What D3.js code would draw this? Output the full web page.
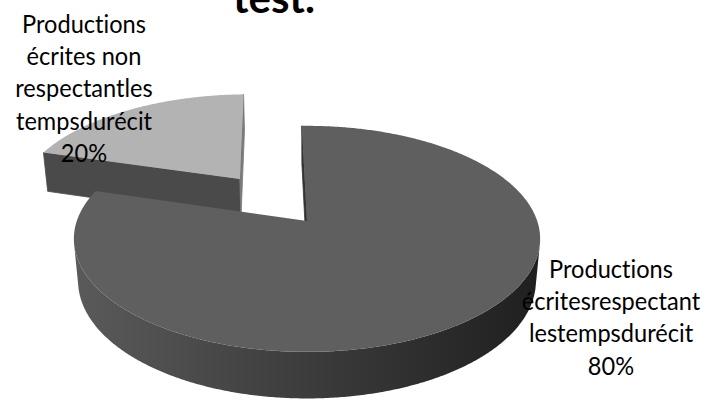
<!DOCTYPE html>
<html>
<head>
<meta charset="utf-8">
<script src="https://cdn.jsdelivr.net/npm/d3@7"></script>
<style>
  html, body { margin: 0; padding: 0; background: #ffffff; }
  svg { display: block; }
  text { font-variant-ligatures: none; }
</style>
</head>
<body>
<svg id="chart" width="707" height="400"></svg>
<script>
// ---- data ----
const titleText = "test.";
const categories = [
  "Productions écrites non respectantles tempsdurécit",
  "Productions écritesrespectant lestempsdurécit"
];
const values = [20, 80];
const labelLines = [
  ["Productions", "écrites non", "respectantles", "tempsdurécit"],
  ["Productions", "écritesrespectant", "lestempsdurécit"]
];
const explodedSlices = [true, false];

// ---- style / layout ----
const topColors = ["#b3b3b3", "#5f5f5f"];
const startFaceColors = ["#4a4a4a", "#333333"];
const endFaceColors = ["#7a7a7a", "#333333"];
const sideStops = [["#595959", "#3a3a3a"], ["#5a5a5a", "#1f1f1f"]];
const labelAnchors = [{ x: 84, y: 33 }, { x: 611, y: 278 }];
const lineStep = 32.2;
const labelFont = "Lato, 'Open Sans', 'DejaVu Sans', sans-serif";
const labelSize = 25;

// ---- 3D view: pie lies in the horizontal plane, camera tilted down ----
const view = {
  cx: 307, cy: 221,     // screen position of the pie centre
  focal: 1280,          // focal length in px (pie radius = 1)
  dist: 5.56,           // camera distance in radii
  elev: 28.6 * Math.PI / 180
};
const thickness = 0.21;
const explodeBy = 0.51;
const rotation = -1.5 * Math.PI / 180;

const ce = Math.cos(view.elev), se = Math.sin(view.elev);
const camPos = [0, -view.dist * ce, view.dist * se];

function project(X, Y, Z) {
  const depth = view.dist + Y * ce - Z * se;
  const up = Y * se + Z * ce;
  return [view.cx + view.focal * X / depth, view.cy - view.focal * up / depth];
}

const total = d3.sum(values);
const pie = d3.pie().sort(null)
  .startAngle(rotation - 2 * Math.PI * values[0] / total)
  .endAngle(rotation - 2 * Math.PI * values[0] / total + 2 * Math.PI);
const arcs = pie(values);
const pct = d3.format(".0%");

const svg = d3.select("#chart");
const defs = svg.append("defs");
const line = d3.line();
const gPie = svg.append("g");

function angleSteps(a0, a1) {
  const n = Math.max(2, Math.ceil(Math.abs(a1 - a0) / (Math.PI / 360)));
  return d3.range(n + 1).map(i => a0 + (a1 - a0) * i / n);
}

function faceVisible(P, n) {
  return (camPos[0] - P[0]) * n[0] + (camPos[1] - P[1]) * n[1] + (camPos[2] - P[2]) * n[2] > 0;
}

// draw the slice furthest from the viewer first
const order = arcs.map((d, i) => i).sort((a, b) => {
  const ya = explodedSlices[a] ? Math.cos((arcs[a].startAngle + arcs[a].endAngle) / 2) : 0;
  const yb = explodedSlices[b] ? Math.cos((arcs[b].startAngle + arcs[b].endAngle) / 2) : 0;
  return yb - ya;
});

order.forEach(i => {
  const d = arcs[i];
  const mid = (d.startAngle + d.endAngle) / 2;
  const ox = explodedSlices[i] ? explodeBy * Math.sin(mid) : 0;
  const oy = explodedSlices[i] ? explodeBy * Math.cos(mid) : 0;
  const rim = (t, z) => project(ox + Math.sin(t), oy + Math.cos(t), z);
  const ctr = z => project(ox, oy, z);
  const g = gPie.append("g").attr("class", "slice").attr("data-category", categories[i]);

  // curved outer wall: only the stretches facing the camera
  const ts = angleSteps(d.startAngle, d.endAngle);
  const runs = [];
  let run = [];
  ts.forEach(t => {
    const P = [ox + Math.sin(t), oy + Math.cos(t), -thickness / 2];
    if (faceVisible(P, [Math.sin(t), Math.cos(t), 0])) run.push(t);
    else if (run.length) { runs.push(run); run = []; }
  });
  if (run.length) runs.push(run);

  runs.forEach((r, k) => {
    if (r.length < 2) return;
    const pts = r.map(t => rim(t, 0)).concat(r.slice().reverse().map(t => rim(t, -thickness)));
    const xs = pts.map(p => p[0]);
    const gid = "side" + i + "_" + k;
    const grad = defs.append("linearGradient").attr("id", gid)
      .attr("gradientUnits", "userSpaceOnUse")
      .attr("x1", d3.min(xs)).attr("x2", d3.max(xs)).attr("y1", 0).attr("y2", 0);
    grad.append("stop").attr("offset", 0).attr("stop-color", sideStops[i][0]);
    grad.append("stop").attr("offset", 1).attr("stop-color", sideStops[i][1]);
    g.append("path").attr("d", line(pts) + "Z").attr("fill", `url(#${gid})`);
  });

  // radial walls at the two cut edges
  [[d.startAngle, -Math.PI / 2, startFaceColors[i]], [d.endAngle, Math.PI / 2, endFaceColors[i]]]
    .forEach(([a, turn, col]) => {
      const n = [Math.sin(a + turn), Math.cos(a + turn), 0];
      if (!faceVisible([ox, oy, 0], n)) return;
      const pts = [ctr(0), rim(a, 0), rim(a, -thickness), ctr(-thickness)];
      g.append("path").attr("d", line(pts) + "Z")
        .attr("fill", col).attr("stroke", col).attr("stroke-width", 0.8);
    });

  // top face
  const topPts = [ctr(0)].concat(ts.map(t => rim(t, 0)));
  g.append("path").attr("d", line(topPts) + "Z").attr("fill", topColors[i]);
});

// ---- title ----
svg.append("text")
  .attr("x", 274).attr("y", 13)
  .attr("text-anchor", "middle")
  .attr("font-family", labelFont)
  .attr("font-weight", "bold")
  .attr("font-size", 42)
  .attr("fill", "#000")
  .text(titleText);

// ---- data labels (narrowed horizontally to a Calibri-like width) ----
const probe = svg.append("text").attr("font-family", labelFont).attr("font-size", labelSize)
  .style("font-variant-ligatures", "none").text("Productions");
const squeeze = Math.min(1, 124 / probe.node().getComputedTextLength());
probe.remove();

const gLab = svg.append("g");
arcs.forEach((d, i) => {
  const lines = labelLines[i].concat([pct(d.value / total)]);
  const ax = labelAnchors[i].x;
  const t = gLab.append("text")
    .attr("transform", `translate(${ax},0) scale(${squeeze},1)`)
    .attr("text-anchor", "middle")
    .attr("font-family", labelFont)
    .attr("font-size", labelSize)
    .attr("fill", "#000");
  lines.forEach((s, k) => {
    t.append("tspan").attr("x", 0).attr("y", labelAnchors[i].y + k * lineStep).text(s);
  });
});
</script>
</body>
</html>
